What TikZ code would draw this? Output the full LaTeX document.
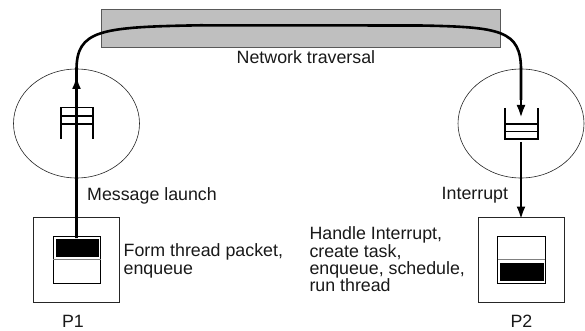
\documentclass[tikz,border=0pt]{standalone}
\usepackage{fontspec}
\setmainfont{Liberation Sans}
\usetikzlibrary{arrows.meta}
\tikzset{
  lbl/.style={inner sep=0pt,font=\fontsize{17.8}{17.3}\selectfont,align=left,text=black!90},
  wire/.style={line width=2.6pt},
  conn/.style={line width=2.6pt,-{Latex[length=13pt,width=9pt]}},
  qline/.style={line width=1.9pt},
  thin box/.style={draw=black!85,line width=0.8pt,fill=white},
  cell/.style={draw=black,line width=0.8pt,fill=white},
  bubble/.style={draw=black!85,line width=0.6pt}
}
\begin{document}
\begin{tikzpicture}[x=1pt,y=-1pt]
\useasboundingbox (0,0) rectangle (585,331);
\fill[white] (0,0) rectangle (585,331);
% network
\draw[draw=black!65,fill=black!25,line width=0.8pt] (101.5,9.5) rectangle (500.5,47);
\node[lbl,anchor=base west] (net) at (236.5,64) {Network traversal};
% ellipses
\draw[bubble] (76.5,123.5) ellipse (63 and 54.5);
\draw[bubble] (521,123.5) ellipse (63 and 54.5);
% processors
\draw[thin box] (33.8,217.5) rectangle (119.5,302.5);
\draw[thin box] (478.5,217.5) rectangle (564,302.5);
\draw[cell] (53,236.5) rectangle (100.5,283.5);
\draw[draw=black!50,line width=0.8pt] (53,259.7) -- (100.5,259.7);
\fill[black] (56,239) rectangle (99,257);
\draw[cell] (497.7,236.5) rectangle (545,283.5);
\draw[draw=black!50,line width=0.8pt] (497.7,259.7) -- (545,259.7);
\fill[black] (500,262.5) rectangle (543.5,281);
% queues
\draw[qline] (61,139) -- (61,107.5) -- (93,107.5) -- (93,139);
\draw[qline,line width=1.4pt] (61,116) -- (93,116) (61,124) -- (93,124);
\draw[qline] (505,108) -- (505,139) -- (538,139) -- (538,108);
\draw[qline,line width=1.4pt] (505,124) -- (538,124) (505,131.5) -- (538,131.5);
% connectors
\coordinate (p1top) at (76.5,238);
\coordinate (a) at (76.5,76);
\coordinate (b) at (521,118);
\coordinate (c) at (521,142);
\coordinate (p2top) at (521,219.5);
\draw[wire] (p1top) -- (76.5,70) .. controls (76.5,30) and (100,27) .. (200,25.3) -- (420,25.5) .. controls (500,27) and (521,30) .. (521,70) -- (521,100);
\draw[conn] (76.5,100) -- (a);
\draw[conn] (521,90) -- (b);
\draw[conn] (c) -- (p2top);
% labels
\node[lbl,anchor=base west] (ml) at (87,200) {Message launch};
\node[lbl,anchor=base west] (il) at (441.5,199.3) {Interrupt};
\node[lbl,anchor=base west] (ft) at (123.5,274) {Form thread packet,\\enqueue};
\node[lbl,anchor=base west] (hi) at (309.3,291.7) {Handle Interrupt,\\create task,\\enqueue, schedule,\\run thread};
\node[lbl,anchor=base] (p1) at (73,327) {P1};
\node[lbl,anchor=base] (p2) at (521.5,327) {P2};
\end{tikzpicture}
\end{document}
